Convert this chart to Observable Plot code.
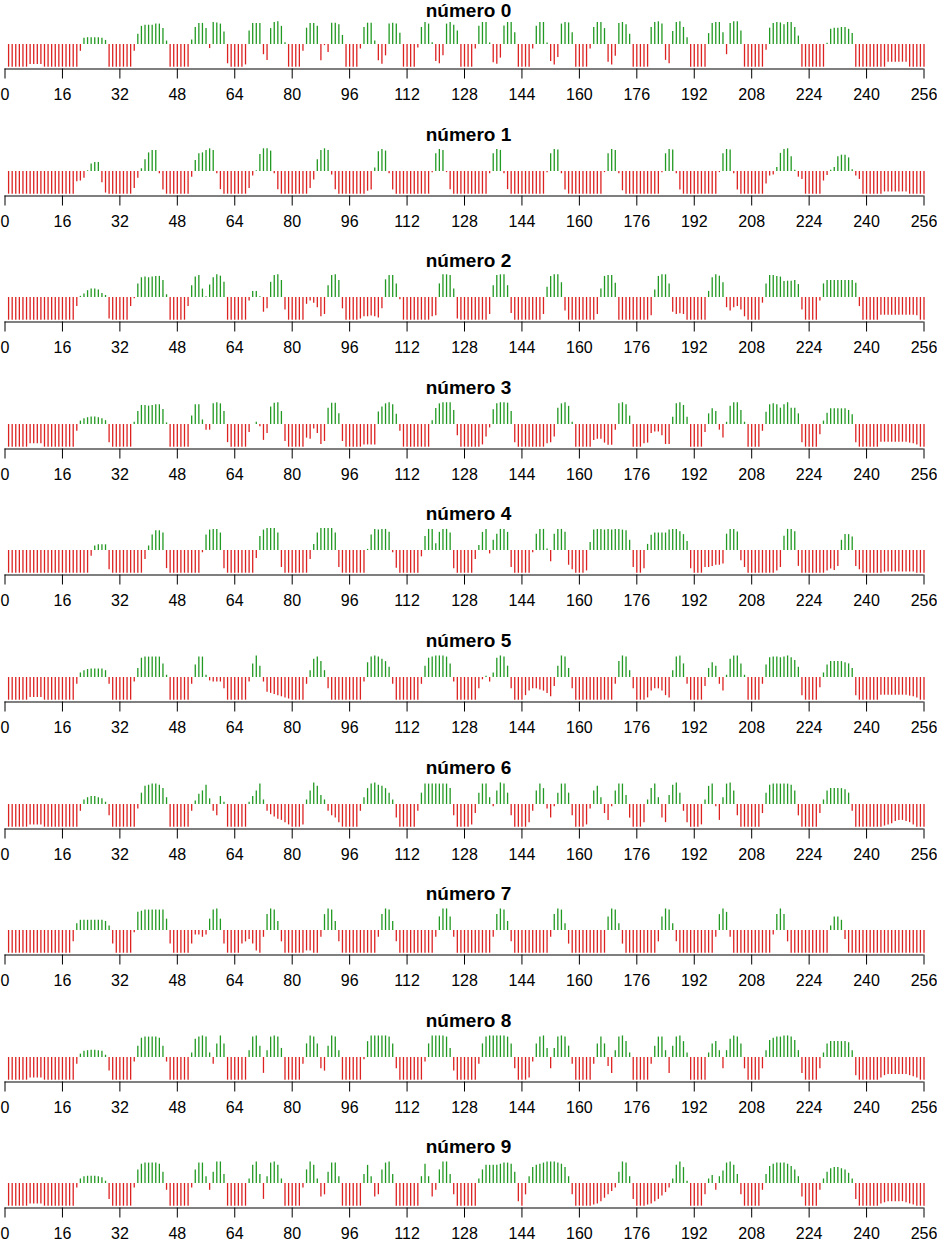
<!DOCTYPE html>
<html><head><meta charset="utf-8">
<script src="https://cdn.jsdelivr.net/npm/d3@7"></script>
<script src="https://cdn.jsdelivr.net/npm/@observablehq/plot@0.6"></script>
<style>
body{margin:0;background:#fff;font-family:"Liberation Sans",Arial,Helvetica,sans-serif;}
#wrap{position:relative;width:937px;height:1243px;overflow:hidden;background:#fff;}
.ttl{position:absolute;left:0;width:937px;text-align:center;font-weight:bold;font-size:19px;line-height:22px;color:#000;}
.pan{position:absolute;left:0;}
</style></head><body><div id="wrap"></div>
<script>
const titles = ["número 0","número 1","número 2","número 3","número 4","número 5","número 6","número 7","número 8","número 9"];
const xTicks = [0,16,32,48,64,80,96,112,128,144,160,176,192,208,224,240,256];

const digit0 = [
-1,-1,-1,-1,-1,-1,-0.88,-0.88,-0.88,-0.88,-1,-1,-1,-1,-1,-1,
-1,-1,-1,-1,-0.3,0.28,0.3,0.3,0.3,0.3,0.28,0.18,-1,-1,-1,-1,
-1,-1,-1,-0.3,0.45,0.8,0.85,0.85,0.85,0.9,0.9,0.7,0.15,-1,-1,-1,
-1,-1,-1,0.2,0.75,0.93,0.93,0.7,-0.18,0.97,0.95,0.9,0.55,-0.85,-1,-1,
-1,-1,-0.9,0.6,0.93,0.93,0.93,-0.45,-0.7,0.7,0.97,1,0.8,0.08,-1,-1,
-1,-1,-0.3,0.72,0.93,0.93,0.8,-0.72,-0.05,-0.35,0.94,0.94,0.87,0.4,-1,-1,
-1,-1,-0.2,0.75,0.94,0.94,0.15,-0.72,-0.87,-0.5,0.9,0.94,0.9,0.5,-1,-1,
-1,-1,-0.15,0.75,0.97,0.9,0.08,-0.75,-0.85,-0.5,0.9,0.97,0.85,0.6,-1,-1,
-1,-1,-0.2,0.8,0.97,0.97,0.07,-0.8,-0.87,-0.6,0.82,0.97,0.97,0.52,-1,-1,
-1,-1,-0.2,0.8,0.97,0.97,0.07,-0.75,-0.9,-0.57,0.9,0.97,0.95,0.52,-1,-1,
-1,-1,-0.2,0.75,0.97,0.97,0.7,-0.78,-0.9,-0.52,0.93,0.97,0.87,0.45,-1,-1,
-1,-1,-1,0.75,0.97,1,0.9,-0.7,-0.85,0.57,0.97,1,0.75,0.3,-1,-1,
-1,-1,-1,0.48,0.93,0.97,0.97,0.52,-0.45,0.93,1,1,0.6,-1,-1,-1,
-1,-1,-1,-0.25,0.72,0.93,0.97,0.95,0.87,0.97,0.97,0.75,0.37,-1,-1,-1,
-1,-1,-1,-1,0.05,0.67,0.72,0.72,0.75,0.75,0.67,0.48,-1,-1,-1,-1,
-1,-1,-1,-1,-1,-0.78,-0.78,-0.78,-0.78,-0.78,-0.78,-1,-1,-1,-1,-1];

const digit1 = [
-1,-1,-1,-1,-1,-1,-1,-1,-1,-1,-1,-1,-1,-1,-1,-1,
-1,-1,-1,-0.45,-0.42,-0.3,0.03,0.33,0.4,0.4,-0.5,-0.95,-1,-1,-1,-1,
-1,-1,-1,-0.75,-0.3,0.12,0.52,0.82,0.93,0.93,-0.1,-0.82,-1,-1,-1,-1,
-1,-1,-1,-0.25,0.48,0.78,0.82,0.93,1,0.93,-0.1,-0.8,-1,-1,-1,-1,
-1,-1,-1,-0.75,-0.2,0.03,0.75,1,1,0.9,-0.1,-0.8,-1,-1,-1,-1,
-1,-1,-1,-1,-0.75,-0.37,0.52,0.93,1,0.93,-0.15,-0.8,-1,-1,-1,-1,
-1,-1,-1,-1,-0.87,-0.82,0.15,0.87,0.97,0.9,-0.1,-0.82,-1,-1,-1,-1,
-1,-1,-1,-1,-1,-1,-0.05,0.78,0.97,0.93,-0.05,-0.8,-1,-1,-1,-1,
-1,-1,-1,-1,-1,-1,-0.1,0.78,0.97,0.93,-0.1,-0.8,-1,-1,-1,-1,
-1,-1,-1,-1,-1,-1,-0.05,0.78,0.97,0.95,-0.1,-0.82,-1,-1,-1,-1,
-1,-1,-1,-1,-1,-1,-0.05,0.78,0.97,0.93,-0.1,-0.85,-1,-1,-1,-1,
-1,-1,-1,-1,-1,-1,-0.05,0.78,0.97,0.95,-0.1,-0.82,-1,-1,-1,-1,
-1,-1,-1,-1,-1,-1,-0.05,0.78,0.97,0.95,-0.1,-0.82,-1,-1,-1,-1,
-1,-1,-1,-0.55,-0.2,-0.15,0.18,0.8,0.97,1,0.65,0.05,-0.25,-0.35,-1,-1,
-1,-1,-1,-0.42,-0.18,0.05,0.18,0.65,0.72,0.72,0.6,0.08,-0.2,-0.35,-1,-1,
-1,-1,-1,-1,-0.9,-0.9,-0.9,-0.9,-0.9,-0.9,-0.9,-1,-1,-1,-1,-1];

const digit2 = [
-1,-1,-1,-1,-1,-1,-1,-1,-1,-1,-1,-1,-1,-1,-1,-1,
-1,-1,-1,-0.4,0.05,0.15,0.3,0.37,0.37,0.33,0.18,0.09,-0.95,-1,-1,-1,
-1,-1,-0.4,-0.05,0.6,0.87,0.9,0.87,0.9,0.93,0.93,0.75,0.12,-1,-1,-1,
-1,-1,-0.4,0.52,0.9,0.97,0.37,0.03,0.55,0.87,1,0.94,0.67,-1,-1,-1,
-1,-1,-1,-0.15,0.27,0.27,0.03,-0.65,-0.5,0.67,0.97,1,0.75,-0.55,-1,-1,
-1,-1,-1,-0.3,-0.15,-0.25,-0.45,-0.85,-0.75,0.52,0.97,1,0.75,-0.5,-1,-1,
-1,-1,-0.95,-0.85,-0.85,-0.82,-0.85,-0.9,-0.5,0.78,0.97,0.97,0.6,-0.1,-1,-1,
-1,-1,-1,-1,-1,-1,-0.85,-0.8,0.6,1,1,0.97,0.37,-0.95,-1,-1,
-1,-1,-1,-1,-1,-1,-0.75,0.52,0.97,1,1,0.52,-0.7,-1,-1,-1,
-1,-1,-1,-1,-1,-0.75,0.45,0.93,1,1,0.65,-0.6,-1,-1,-1,-1,
-1,-1,-1,-1,-0.75,0.37,0.93,0.97,0.97,0.63,-1,-1,-1,-1,-1,-1,
-1,-1,-1,-0.8,0.33,0.93,1,1,0.6,-0.65,-0.75,-0.72,-0.75,-1,-1,-1,
-1,-1,-1,0.27,0.87,1,0.94,0.65,-0.45,-0.6,-0.45,-0.4,-0.55,-0.85,-1,-1,
-1,-1,-0.25,0.6,0.97,0.97,0.93,0.9,0.7,0.72,0.72,0.75,0.57,-0.55,-1,-1,
-1,-1,-0.15,0.6,0.75,0.75,0.75,0.75,0.75,0.75,0.75,0.75,0.63,-0.4,-1,-1,
-1,-1,-1,-0.78,-0.78,-0.78,-0.78,-0.78,-0.78,-0.78,-0.78,-0.78,-0.78,-0.8,-1,-1];

const digit3 = [
-1,-1,-1,-1,-1,-1,-0.85,-0.85,-0.85,-0.85,-1,-1,-1,-1,-1,-1,
-1,-1,-1,-0.3,0.15,0.25,0.3,0.33,0.33,0.3,0.25,0.17,-0.8,-1,-1,-1,
-1,-1,-1,0.1,0.57,0.84,0.84,0.81,0.84,0.87,0.87,0.66,0.07,-1,-1,-1,
-1,-1,-1,0.37,0.87,0.87,0.2,-0.25,-0.25,0.91,0.96,0.91,0.57,-0.8,-1,-1,
-1,-1,-1,-0.35,0,0.1,-0.1,-0.7,-0.4,0.77,0.94,0.96,0.57,-0.75,-1,-1,
-1,-1,-1,-0.6,-0.65,-0.2,-0.4,-0.88,-0.75,0.72,0.94,0.94,0.47,-0.75,-1,-1,
-1,-1,-1,-0.9,-0.9,-0.9,-0.9,0.55,0.77,0.91,0.96,0.87,0.45,-0.3,-1,-1,
-1,-1,-1,-1,-1,-1,0.17,0.7,0.91,0.96,0.96,0.96,0.62,-0.5,-1,-1,
-1,-1,-1,-1,-0.9,-0.55,-0.15,0.65,0.91,0.96,0.96,0.94,0.57,-0.8,-1,-1,
-1,-1,-1,-1,-1,-1,-0.85,-0.8,-0.55,0.72,0.91,0.96,0.8,0.1,-1,-1,
-1,-1,-1,-0.7,-0.65,-0.65,-0.82,-0.92,-0.92,-0.25,0.91,0.96,0.87,0.37,-1,-1,
-1,-0.85,-0.82,-0.4,-0.33,-0.33,-0.5,-0.88,-0.88,0.32,0.91,0.96,0.84,0.32,-1,-1,
-1,-1,-0.35,0.47,0.69,0.57,-0.25,-0.6,0.1,0.8,0.96,0.96,0.62,0.1,-1,-1,
-1,-1,-0.3,0.54,0.87,0.91,0.87,0.72,0.87,0.96,0.72,0.72,0.47,-0.8,-1,-1,
-1,-1,-0.45,0.15,0.5,0.69,0.69,0.69,0.69,0.69,0.62,0.43,-0.8,-1,-1,-1,
-1,-1,-1,-0.78,-0.78,-0.78,-0.78,-0.78,-0.78,-0.78,-0.78,-0.82,-0.85,-0.9,-1,-1];

const digit4 = [
-1,-1,-1,-1,-1,-1,-1,-1,-1,-1,-1,-1,-1,-1,-1,-1,
-1,-1,-1,-1,-1,-1,-1,-0.25,0.2,0.25,0.25,0.25,-0.85,-1,-1,-1,
-1,-1,-1,-1,-1,-1,-0.4,0.2,0.68,0.87,0.87,0.77,-0.8,-1,-1,-1,
-1,-1,-1,-1,-1,-1,-0.1,0.68,0.9,0.93,0.93,0.77,-0.8,-1,-1,-1,
-1,-1,-1,-1,-1,-0.35,0.62,0.9,0.97,0.97,0.97,0.77,-0.75,-1,-1,-1,
-1,-1,-1,-1,-0.4,0.27,0.77,0.97,0.97,0.97,0.97,0.77,-0.75,-1,-1,-1,
-1,-1,-1,-1,0.05,0.68,0.93,0.9,0.93,0.93,0.8,-0.1,-0.78,-1,-1,-1,
-1,-1,-1,-0.28,0.62,0.93,0.93,0.3,0.8,0.93,0.93,0.77,-0.8,-1,-1,-1,
-1,-1,-0.4,0.22,0.8,0.93,-0.15,0.45,0.72,0.93,0.93,0.8,-0.75,-1,-1,-1,
-1,-1,-0.1,0.72,0.93,0.93,0.07,-0.5,0.72,0.93,0.93,0.8,-0.65,-0.85,-1,-1,
-1,-0.9,0.35,0.9,0.93,0.93,0.9,0.93,0.9,0.93,0.93,0.9,0.87,0.45,-0.75,-1,
-1,-0.8,0.27,0.67,0.77,0.77,0.77,0.77,0.9,0.93,0.93,0.83,0.7,0.4,-0.8,-1,
-1,-1,-0.75,-0.75,-0.7,-0.65,-0.65,-0.6,0.72,0.93,0.93,0.82,-0.45,-0.75,-1,-1,
-1,-1,-1,-1,-1,-1,-0.9,-0.75,0.63,0.93,0.93,0.83,-0.7,-1,-1,-1,
-1,-1,-1,-1,-0.9,-0.82,-0.88,-0.7,0.45,0.7,0.7,0.6,-0.7,-0.85,-1,-1,
-1,-1,-1,-1,-0.95,-0.95,-0.95,-0.95,-0.95,-0.95,-0.95,-0.95,-0.95,-1,-1,-1];

const digit5 = [
-1,-1,-1,-1,-1,-1,-0.88,-0.88,-0.88,-0.88,-1,-1,-1,-1,-1,-1,
-1,-1,-1,-0.3,0.2,0.3,0.35,0.37,0.37,0.37,0.37,0.3,-0.3,-1,-1,-1,
-1,-1,-1,-0.2,0.4,0.85,0.9,0.9,0.9,0.9,0.9,0.6,0.1,-1,-1,-1,
-1,-1,-1,-0.3,0.55,0.9,0.9,0.1,-0.15,-0.2,-0.2,-0.2,-0.5,-1,-1,-1,
-1,-1,-1,-0.2,0.6,0.95,0.5,-0.2,-0.65,-0.7,-0.75,-0.8,-0.85,-0.9,-0.95,-1,
-1,-1,-1,-0.3,0.3,0.8,0.9,0.7,0.3,-0.5,-1,-1,-1,-1,-1,-1,
-1,-1,-1,-0.2,0.65,0.9,0.95,0.9,0.8,0.7,0.45,-0.3,-1,-1,-1,-1,
-1,-1,-1,-0.3,0.5,0.85,0.9,0.95,0.95,0.95,0.9,0.6,-0.2,-1,-1,-1,
-1,-1,-1,-0.5,-0.1,0.05,-0.2,0.2,0.85,0.95,0.9,0.5,-0.5,-1,-1,-1,
-0.8,-0.6,-0.5,-0.5,-0.55,-0.6,-0.7,-0.85,-0.4,0.5,0.95,0.9,0.4,-0.5,-1,-1,
-1,-1,-1,-1,-1,-1,-1,-1,-1,-0.3,0.7,0.95,0.9,0.3,-0.5,-1,
-1,-1,-0.9,-0.6,-0.5,-0.5,-0.6,-0.8,-0.9,0.3,0.9,0.95,0.6,-0.3,-1,-1,
-1,-1,-0.4,0.4,0.65,0.5,-0.3,-0.6,0.1,0.8,0.95,0.95,0.6,0.1,-1,-1,
-1,-1,-0.3,0.55,0.87,0.9,0.9,0.87,0.9,0.95,0.87,0.75,0.45,-0.8,-1,-1,
-1,-1,-0.45,0.2,0.55,0.7,0.7,0.7,0.7,0.65,0.6,0.4,-0.8,-1,-1,-1,
-1,-1,-1,-0.78,-0.78,-0.78,-0.78,-0.78,-0.78,-0.78,-0.78,-0.82,-0.85,-0.9,-1,-1];

const digit6 = [
-1,-1,-1,-1,-1,-1,-0.9,-0.9,-0.9,-0.9,-1,-1,-1,-1,-1,-1,
-1,-1,-1,-1,-0.3,0.2,0.3,0.35,0.35,0.3,0.25,0.1,-0.5,-1,-1,-1,
-1,-1,-1,-1,-0.2,0.5,0.8,0.85,0.9,0.9,0.85,0.7,0.3,-1,-1,-1,
-1,-1,-1,-0.3,0.15,0.45,0.6,0.85,0.25,-0.3,-0.5,0.35,0.1,-1,-1,-1,
-1,-1,-1,0.1,0.35,0.6,0.9,0.2,-0.3,-0.45,-0.55,-0.65,-0.7,-0.8,-0.9,-1,
-1,-1,-0.9,0.2,0.6,0.95,0.8,0.4,0.2,-0.3,-0.5,-0.6,-0.8,-1,-1,-1,
-1,-1,-0.3,0.3,0.7,0.9,0.95,0.85,0.8,0.7,0.5,0.2,-0.6,-1,-1,-1,
-1,-1,-0.3,0.5,0.9,0.9,0.9,0.9,0.9,0.9,0.9,0.7,-0.5,-1,-1,-1,
-1,-0.9,-0.4,0.5,0.9,0.9,0.3,-0.1,0.6,0.95,0.9,0.5,-0.5,-1,-1,-1,
-1,-0.8,-0.3,0.6,0.9,0.7,-0.2,-0.6,-0.1,0.5,0.9,0.9,0.5,-0.5,-1,-1,
-1,-0.9,-0.2,0.6,0.8,0.3,-0.4,-0.7,-0.1,0.6,0.9,0.9,0.4,-0.6,-1,-1,
-1,-0.8,0.2,0.7,0.9,0.3,-0.6,-0.8,0.4,0.85,0.95,0.5,-0.3,-0.8,-1,-1,
-1,-0.9,0.2,0.8,0.9,-0.1,-0.7,0.3,0.9,0.95,0.6,-0.5,-1,-1,-1,-1,
-1,-1,-0.4,0.5,0.85,0.9,0.9,0.9,0.9,0.9,0.85,0.6,-0.5,-1,-1,-1,
-1,-1,-0.4,0.2,0.6,0.7,0.7,0.7,0.7,0.65,0.5,-0.3,-1,-1,-1,-1,
-1,-1,-1,-1,-0.95,-0.9,-0.85,-0.75,-0.7,-0.7,-0.75,-0.8,-0.9,-1,-1,-1];

const digit7 = [
-1,-1,-1,-1,-1,-1,-1,-1,-1,-1,-1,-1,-1,-1,-1,-1,
-1,-1,-0.5,0.3,0.45,0.45,0.45,0.45,0.45,0.45,0.45,0.4,0.2,-0.6,-1,-1,
-1,-1,-1,-0.1,0.8,0.85,0.9,0.9,0.9,0.9,0.9,0.9,0.5,-0.6,-1,-1,
-1,-1,-1,-0.6,-0.2,-0.2,-0.3,-0.2,0.5,0.9,0.95,0.5,-0.6,-1,-1,-1,
-1,-0.6,-0.5,-0.4,-0.6,-0.9,-1,-0.3,0.7,0.95,0.9,0.4,-0.5,-1,-1,-1,
-1,-1,-1,-0.9,-0.9,-1,-1,-0.3,0.7,0.95,0.9,0.4,-0.5,-1,-1,-1,
-1,-1,-1,-1,-1,-1,-1,-0.3,0.7,0.95,0.9,0.4,-0.5,-1,-1,-1,
-1,-1,-1,-1,-1,-1,-1,-0.3,0.6,0.95,0.95,0.6,-0.3,-1,-1,-1,
-1,-1,-1,-1,-1,-1,-1,-0.3,0.7,0.95,0.9,0.4,-0.5,-1,-1,-1,
-1,-1,-1,-1,-1,-1,-1,-0.3,0.7,0.95,0.9,0.3,-0.6,-1,-1,-1,
-1,-1,-1,-1,-1,-1,-1,0.6,0.95,0.9,0.3,-0.6,-1,-1,-1,-1,
-1,-1,-1,-1,-1,-0.5,0.6,0.95,0.9,0.3,-0.5,-1,-1,-1,-1,-1,
-1,-1,-1,-1,-1,-0.3,0.7,0.95,0.8,-0.3,-1,-1,-1,-1,-1,-1,
-1,-1,-1,-1,-1,-0.2,0.7,0.95,0.7,-0.5,-1,-1,-1,-1,-1,-1,
-1,-1,-1,-1,-1,0.2,0.6,0.6,0.45,-0.4,-1,-1,-1,-1,-1,-1,
-1,-1,-1,-1,-1,-1,-1,-1,-1,-1,-1,-1,-1,-1,-1,-1];

const digit8 = [
-1,-1,-1,-1,-1,-1,-0.9,-0.9,-0.9,-0.9,-1,-1,-1,-1,-1,-1,
-1,-1,-1,-0.3,0.15,0.28,0.3,0.32,0.32,0.3,0.28,0.1,-0.6,-1,-1,-1,
-1,-1,-1,-0.2,0.5,0.85,0.9,0.9,0.9,0.9,0.85,0.5,-0.2,-1,-1,-1,
-1,-1,-1,0.2,0.8,0.9,0.95,0.9,0.2,-0.3,0.6,0.95,0.6,-1,-1,-1,
-1,-1,-1,0.3,0.9,0.95,0.5,-0.7,0.3,0.9,0.95,0.9,0.4,-1,-1,-1,
-1,-1,-0.3,0.6,0.95,0.9,0.6,-0.5,-0.6,0.5,0.95,0.9,0.3,-1,-1,-1,
-1,-1,-1,-0.1,0.7,0.95,0.95,0.95,0.95,0.95,0.9,0.6,-0.5,-1,-1,-1,
-1,-1,-1,-1,-0.2,0.6,0.95,0.95,0.95,0.95,0.9,0.4,-0.6,-1,-1,-1,
-1,-1,-1,-0.3,0.6,0.9,0.95,0.95,0.95,0.95,0.95,0.9,0.6,-0.5,-1,-1,
-1,-0.9,-0.2,0.6,0.9,0.95,0.4,-0.5,0.4,0.9,0.95,0.9,0.5,-0.3,-1,-1,
-1,-1,-1,-0.3,0.6,0.9,0.6,-0.4,-0.7,0.3,0.9,0.95,0.7,0.2,-1,-1,
-1,-1,-1,-0.3,0.5,0.9,0.9,0.3,-0.7,0.5,0.9,0.95,0.7,0.2,-1,-1,
-1,-1,-1,0.2,0.6,0.7,0.3,-0.5,0.3,0.8,0.95,0.9,0.6,-0.5,-1,-1,
-1,-1,-0.5,0.3,0.75,0.85,0.9,0.9,0.95,0.95,0.9,0.75,0.3,-0.7,-1,-1,
-1,-1,-0.5,0.2,0.6,0.7,0.7,0.7,0.7,0.7,0.65,0.3,-0.8,-1,-1,-1,
-1,-1,-1,-0.9,-0.8,-0.75,-0.75,-0.75,-0.75,-0.75,-0.75,-0.8,-0.85,-0.9,-1,-1];

const digit9 = [
-1,-1,-1,-1,-1,-1,-0.9,-0.9,-0.9,-0.9,-1,-1,-1,-1,-1,-1,
-1,-1,-1,-0.2,0.2,0.3,0.32,0.32,0.32,0.3,0.25,0.1,-0.7,-1,-1,-1,
-1,-1,-1,-0.2,0.6,0.85,0.9,0.9,0.9,0.9,0.85,0.5,-0.3,-1,-1,-1,
-1,-1,-1,-0.2,0.6,0.9,0.9,0.3,-0.3,0.5,0.95,0.95,0.4,-1,-1,-1,
-1,-1,-1,0.2,0.8,0.95,0.4,-0.7,0.3,0.9,0.95,0.8,0.2,-1,-1,-1,
-1,-1,-0.2,0.6,0.95,0.8,0.2,-0.6,-0.5,0.5,0.9,0.9,0.3,-1,-1,-1,
-1,-1,-1,0.4,0.8,0.3,-0.6,-0.5,0.6,0.9,0.95,0.4,-1,-1,-1,-1,
-1,-1,-1,0.3,0.85,0.3,-0.6,-0.3,0.6,0.95,0.95,0.4,-0.5,-1,-1,-1,
-1,-1,-1,0.2,0.6,0.8,0.8,0.8,0.8,0.85,0.9,0.9,0.85,0.5,-0.8,-1,
-0.5,0.3,0.7,0.8,0.85,0.9,0.95,0.95,0.95,0.9,0.85,0.7,0.3,-0.5,-1,-1,
-1,-1,-1,-0.95,-0.9,-0.8,-0.65,-0.5,-0.35,-0.2,0.5,0.95,0.9,0.3,-0.7,-1,
-1,-1,-0.95,-0.9,-0.8,-0.7,-0.55,-0.4,-0.2,0.2,0.8,0.95,0.7,0.1,-1,-1,
-1,-1,-0.5,0.2,0.35,-0.3,0.3,0.55,0.9,0.95,0.8,0.4,-0.5,-1,-1,-1,
-1,-1,-0.3,0.4,0.75,0.85,0.9,0.9,0.9,0.85,0.75,0.6,0.3,-0.6,-1,-1,
-1,-1,-0.3,0.2,0.5,0.65,0.7,0.7,0.65,0.6,0.45,0.2,-0.7,-1,-1,-1,
-1,-1,-1,-0.9,-0.85,-0.8,-0.8,-0.8,-0.8,-0.8,-0.85,-0.9,-0.95,-1,-1,-1];

const series = [digit0,digit1,digit2,digit3,digit4,digit5,digit6,digit7,digit8,digit9];
const RED = "#dd2222", GREEN = "#229922";
const FONT = '"Liberation Sans",Arial,Helvetica,sans-serif';
const wrap = document.getElementById("wrap");

series.forEach((vals, k) => {
  const top = Math.round(126.6 * k);
  const t = document.createElement("div");
  t.className = "ttl";
  t.style.top = Math.max(0, top - 3) + "px";
  t.textContent = titles[k];
  wrap.appendChild(t);

  const data = vals.map((v, i) => ({i: i + 1, v}));
  const chart = Plot.plot({
    width: 937, height: 110,
    marginTop: 3.5, marginBottom: 57.5, marginLeft: 0, marginRight: 0,
    x: {domain: [0, 256], range: [4.5, 923.5], ticks: xTicks, tickSize: 10, tickPadding: 10, tickFormat: d => String(d), label: null},
    y: {domain: [-1.08, 1.08], axis: null},
    style: {fontFamily: FONT, fontSize: "16px", background: "transparent", color: "#000", overflow: "visible"},
    marks: [
      Plot.ruleX(data, {x: "i", y1: d => 0, y2: "v", stroke: d => d.v >= 0 ? GREEN : RED, strokeWidth: 1.3}),
      Plot.ruleY([-1.08], {x1: d => 0, x2: d => 256, stroke: "#000", strokeWidth: 1.2})
    ]
  });
  const holder = document.createElement("div");
  holder.className = "pan";
  holder.style.top = (top + 16) + "px";
  holder.appendChild(chart);
  wrap.appendChild(holder);
});
</script>
</body></html>
